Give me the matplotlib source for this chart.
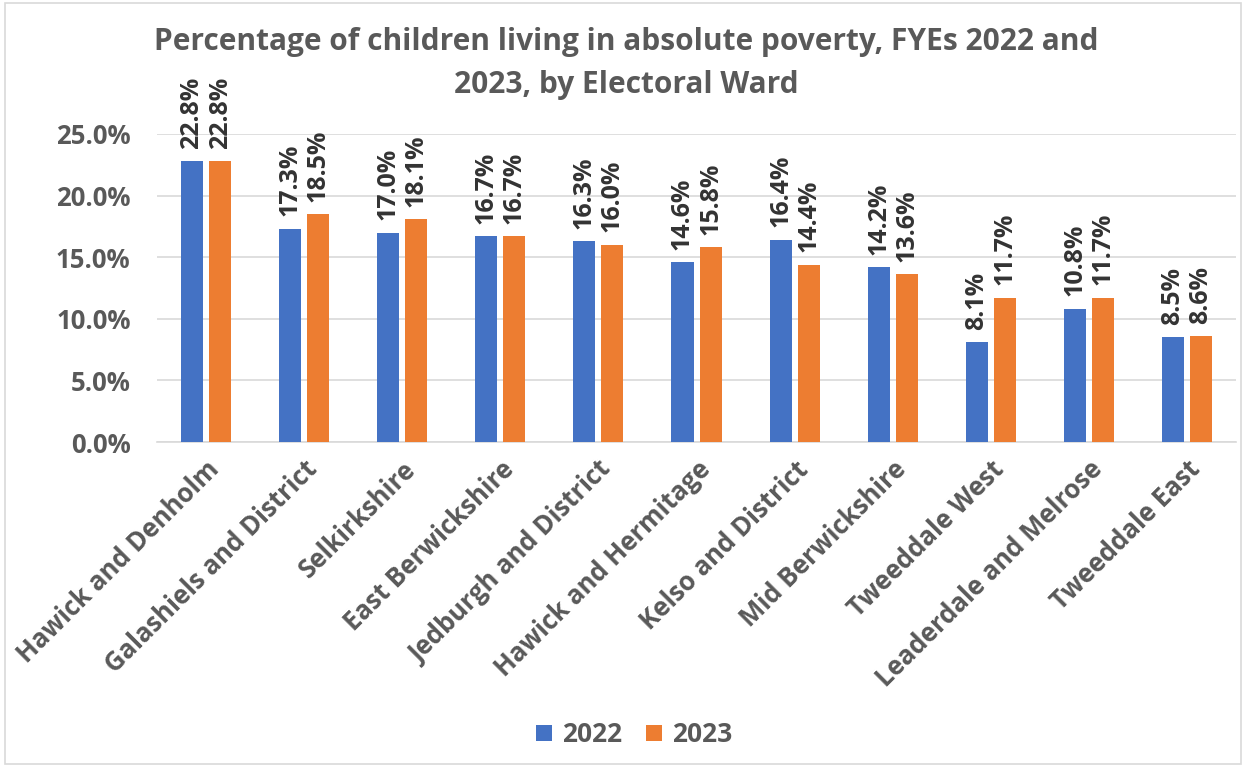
import matplotlib
matplotlib.use('Agg')
import matplotlib.pyplot as plt
import numpy as np
from matplotlib.patches import Rectangle
from matplotlib.ticker import FuncFormatter

wards = ['Hawick and Denholm', 'Galashiels and District', 'Selkirkshire',
         'East Berwickshire', 'Jedburgh and District', 'Hawick and Hermitage',
         'Kelso and District', 'Mid Berwickshire', 'Tweeddale West',
         'Leaderdale and Melrose', 'Tweeddale East']
pct_2022 = [22.8, 17.3, 17.0, 16.7, 16.3, 14.6, 16.4, 14.2, 8.1, 10.8, 8.5]
pct_2023 = [22.8, 18.5, 18.1, 16.7, 16.0, 15.8, 14.4, 13.6, 11.7, 11.7, 8.6]
years = ['2022', '2023']

BLUE = '#4472C4'
ORANGE = '#ED7D31'
GREY = '#595959'

plt.rcParams['font.family'] = ['Open Sans', 'DejaVu Sans']
plt.rcParams['font.weight'] = 'bold'

fig = plt.figure(figsize=(12.46, 7.67), dpi=100)
ax = fig.add_axes([0.126, 0.4237, 0.866, 0.4016])

x = np.arange(len(wards))
w = 0.225
off = 0.143
b1 = ax.bar(x - off, pct_2022, w, color=BLUE, label=years[0], zorder=3)
b2 = ax.bar(x + off, pct_2023, w, color=ORANGE, label=years[1], zorder=3)

for bars in (b1, b2):
    for rect in bars:
        h = rect.get_height()
        ax.annotate('{:.1f}%'.format(h), (rect.get_x() + rect.get_width() / 2, h),
                    xytext=(0, 9), textcoords='offset points', rotation=90,
                    ha='center', va='bottom', fontsize=18, color='#333333',
                    fontweight='bold', annotation_clip=False)

ax.set_xlim(-0.5, len(wards) - 0.5)
ax.set_ylim(0, 25)
ax.set_yticks(np.arange(0, 26, 5))
ax.yaxis.set_major_formatter(FuncFormatter(lambda v, p: '{:.1f}%'.format(v)))
ax.set_xticks(x)
ax.set_xticklabels(wards, rotation=45, ha='right', rotation_mode='anchor')
ax.tick_params(axis='both', length=0, labelsize=18.5, labelcolor=GREY)
ax.tick_params(axis='y', pad=19)
ax.tick_params(axis='x', pad=10)
ax.grid(axis='y', color='#D9D9D9', linewidth=1.2, zorder=0)
for s in ['top', 'right', 'left']:
    ax.spines[s].set_visible(False)
ax.spines['bottom'].set_color('#D9D9D9')
ax.spines['bottom'].set_linewidth(1.2)

# title as two separate lines so the second one stays clear of the bar labels
fig.text(0.503, 1 - 42 / 767, 'Percentage of children living in absolute poverty, FYEs 2022 and',
         ha='center', va='center', fontsize=21.5, color=GREY, fontweight='bold')
fig.text(0.503, 1 - 85 / 767, '2023, by Electoral Ward',
         ha='center', va='center', fontsize=21.5, color=GREY, fontweight='bold')

fig.legend(loc='center', bbox_to_anchor=(0.509, 0.042), ncol=2, frameon=False,
           fontsize=19, handlelength=0.6, handleheight=0.6, columnspacing=0.9,
           handletextpad=0.4, labelcolor=GREY)

fig.patches.append(Rectangle((0.004, 0.004), 0.992, 0.992, transform=fig.transFigure,
                             fill=False, edgecolor='#D9D9D9', linewidth=1.2))

fig.savefig('out.png', dpi=100)
